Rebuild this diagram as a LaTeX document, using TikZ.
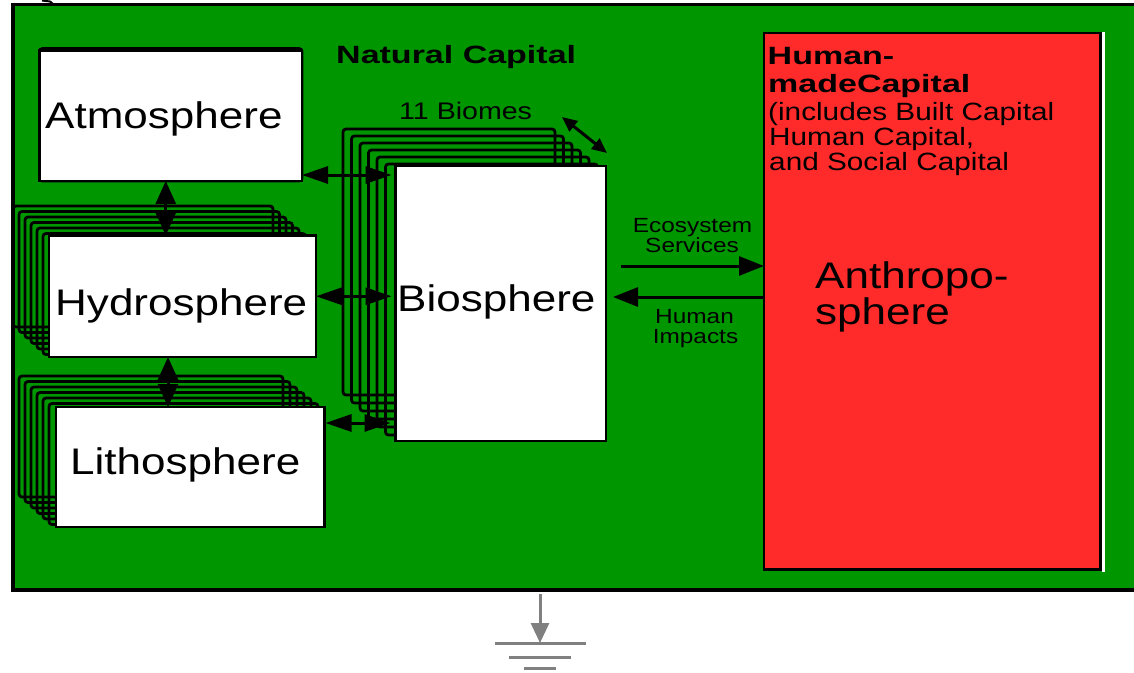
\documentclass[tikz,border=0pt]{standalone}
\usepackage{fontspec}
\setmainfont{Liberation Sans}
\newfontfamily\rfont[FakeStretch=1.19]{Liberation Sans}
\newfontfamily\bfont[FakeStretch=1.36]{Liberation Sans}
\usetikzlibrary{arrows.meta}
\definecolor{natgreen}{RGB}{0,150,0}
\definecolor{humred}{RGB}{255,42,42}
\definecolor{gndgray}{RGB}{128,128,128}
\tikzset{
  stk/.style={draw=black, line width=2.8pt, rounded corners=3pt},
  frontbox/.style={draw=black, fill=white, line width=2.2pt, inner sep=0pt, outer sep=0pt, anchor=north west},
  dbl/.style={{Triangle[length=26pt,width=17pt]}-{Triangle[length=26pt,width=17pt]}, line width=3pt},
  vdbl/.style={{Triangle[length=23pt,width=20pt]}-{Triangle[length=23pt,width=20pt]}, line width=3pt},
  smalldbl/.style={{Triangle[length=15pt,width=13pt]}-{Triangle[length=15pt,width=13pt]}, line width=3pt},
  flow/.style={-{Triangle[length=25pt,width=19pt]}, line width=3pt},
  txt/.style={inner sep=0pt, anchor=base west},
  ctxt/.style={inner sep=0pt, anchor=base},
  bigtxt/.style={font=\rfont\fontsize{37}{40}\selectfont},
  midtxt/.style={font=\rfont\fontsize{25}{28}\selectfont},
  smalltxt/.style={font=\rfont\fontsize{20.5}{22}\selectfont},
  boldtxt/.style={font=\bfont\bfseries\fontsize{25}{28}\selectfont},
}
\begin{document}
\begin{tikzpicture}[x=1pt,y=-1pt]
\useasboundingbox (0,0) rectangle (1134,672);
% natural capital frame
\node[draw=black, fill=natgreen, line width=3.5pt, inner sep=0pt, outer sep=0pt, anchor=north west,
      minimum width=1130pt, minimum height=585.5pt] (nat) at (13,4.5) {};
\draw[line width=2pt] (42,0.5) -- (50,1.5) -- (53,4);
% human-made capital
\node[draw=black, fill=humred, line width=2.5pt, inner sep=0pt, outer sep=0pt, anchor=north west,
      minimum width=336.5pt, minimum height=536.5pt] (hum) at (764,33) {};
\draw[white, line width=3pt] (1103.5,32) -- (1103.5,572);
% stacks
\foreach \i in {0,...,5} {
  \draw[stk] ({13+6*\i},{206+5.5*\i}) rectangle ({273+6.5*\i},{327+5.5*\i});
  \draw[stk] ({19+6*\i},{376+5.5*\i}) rectangle ({283+7*\i},{497+5.5*\i});
  \draw[stk] ({343+8.5*\i},{129+7*\i}) rectangle ({555+8.5*\i},{395+8*\i});
}
\draw[stk] (39.5,48.5) rectangle (302,181);
% front boxes
\node[frontbox, minimum width=262.5pt, minimum height=130.5pt] (atm) at (39.5,50.5) {};
\node[frontbox, minimum width=267pt, minimum height=121.5pt] (hyd) at (49,235.5) {};
\node[frontbox, minimum width=268.5pt, minimum height=120pt] (lit) at (56,407) {};
\node[frontbox, minimum width=210.5pt, minimum height=275pt] (bio) at (395.5,166) {};
% connectors
\draw[dbl] ([yshift=6pt]atm.south east) -- ([xshift=-4pt,yshift=6pt]bio.west |- atm.south east);
\draw[dbl] (hyd.east) -- ([xshift=-4pt]bio.west |- hyd.east);
\draw[dbl] ([xshift=1pt,yshift=-16pt]lit.north east) -- ([xshift=-5pt,yshift=-16pt]bio.west |- lit.north east);
\draw[vdbl] ([xshift=-5pt]atm.south) -- ([xshift=-5pt]atm.south |- hyd.north);
\draw[vdbl] ([xshift=-14.5pt]hyd.south) -- ([xshift=-14.5pt]hyd.south |- lit.north);
\coordinate (b1) at (562,117);
\coordinate (b2) at (607,153);
\draw[smalldbl] (b1) -- (b2);
\coordinate (es) at (621,266);
\coordinate (hi) at (613,297);
\draw[flow] (es) -- (hum.west |- es);
\draw[flow] (hum.west |- hi) -- (hi);
% ground
\coordinate (gtip) at (540,643);
\draw[gndgray, line width=3pt, -{Triangle[length=20pt,width=18pt]}] ([yshift=-4pt]nat.south -| gtip) -- (gtip);
\draw[gndgray, line width=3pt] (495,643) -- (586,643);
\draw[gndgray, line width=3pt] (509,657) -- (571,657);
\draw[gndgray, line width=3pt] (524,668) -- (556,668);
% texts
\node[txt, bigtxt] (tatm) at (45,128) {Atmosphere};
\node[txt, bigtxt] (thyd) at (55,315) {Hydrosphere};
\node[txt, bigtxt] (tlit) at (70,474) {Lithosphere};
\node[txt, bigtxt] (tbio) at (397,311) {Biosphere};
\node[txt, boldtxt] (tnat) at (336,63) {Natural Capital};
\node[txt, font=\rfont\fontsize{24}{26}\selectfont] (tbiom) at (399,119) {11 Biomes};
\node[txt, boldtxt] (th1) at (767.5,64) {Human-};
\node[txt, boldtxt] (th2) at (768,92) {madeCapital};
\node[txt, midtxt] (th3) at (768,120) {(includes Built Capital};
\node[txt, midtxt] (th4) at (769,145) {Human Capital,};
\node[txt, midtxt] (th5) at (769,170) {and Social Capital};
\node[txt, bigtxt] (tan1) at (815,288) {Anthropo-};
\node[txt, bigtxt] (tan2) at (815,324) {sphere};
\node[ctxt, smalltxt] (tes1) at (692.5,232) {Ecosystem};
\node[ctxt, smalltxt] (tes2) at (692,252) {Services};
\node[ctxt, smalltxt] (thi1) at (694.5,323) {Human};
\node[ctxt, smalltxt] (thi2) at (695.5,343) {Impacts};
\end{tikzpicture}
\end{document}
